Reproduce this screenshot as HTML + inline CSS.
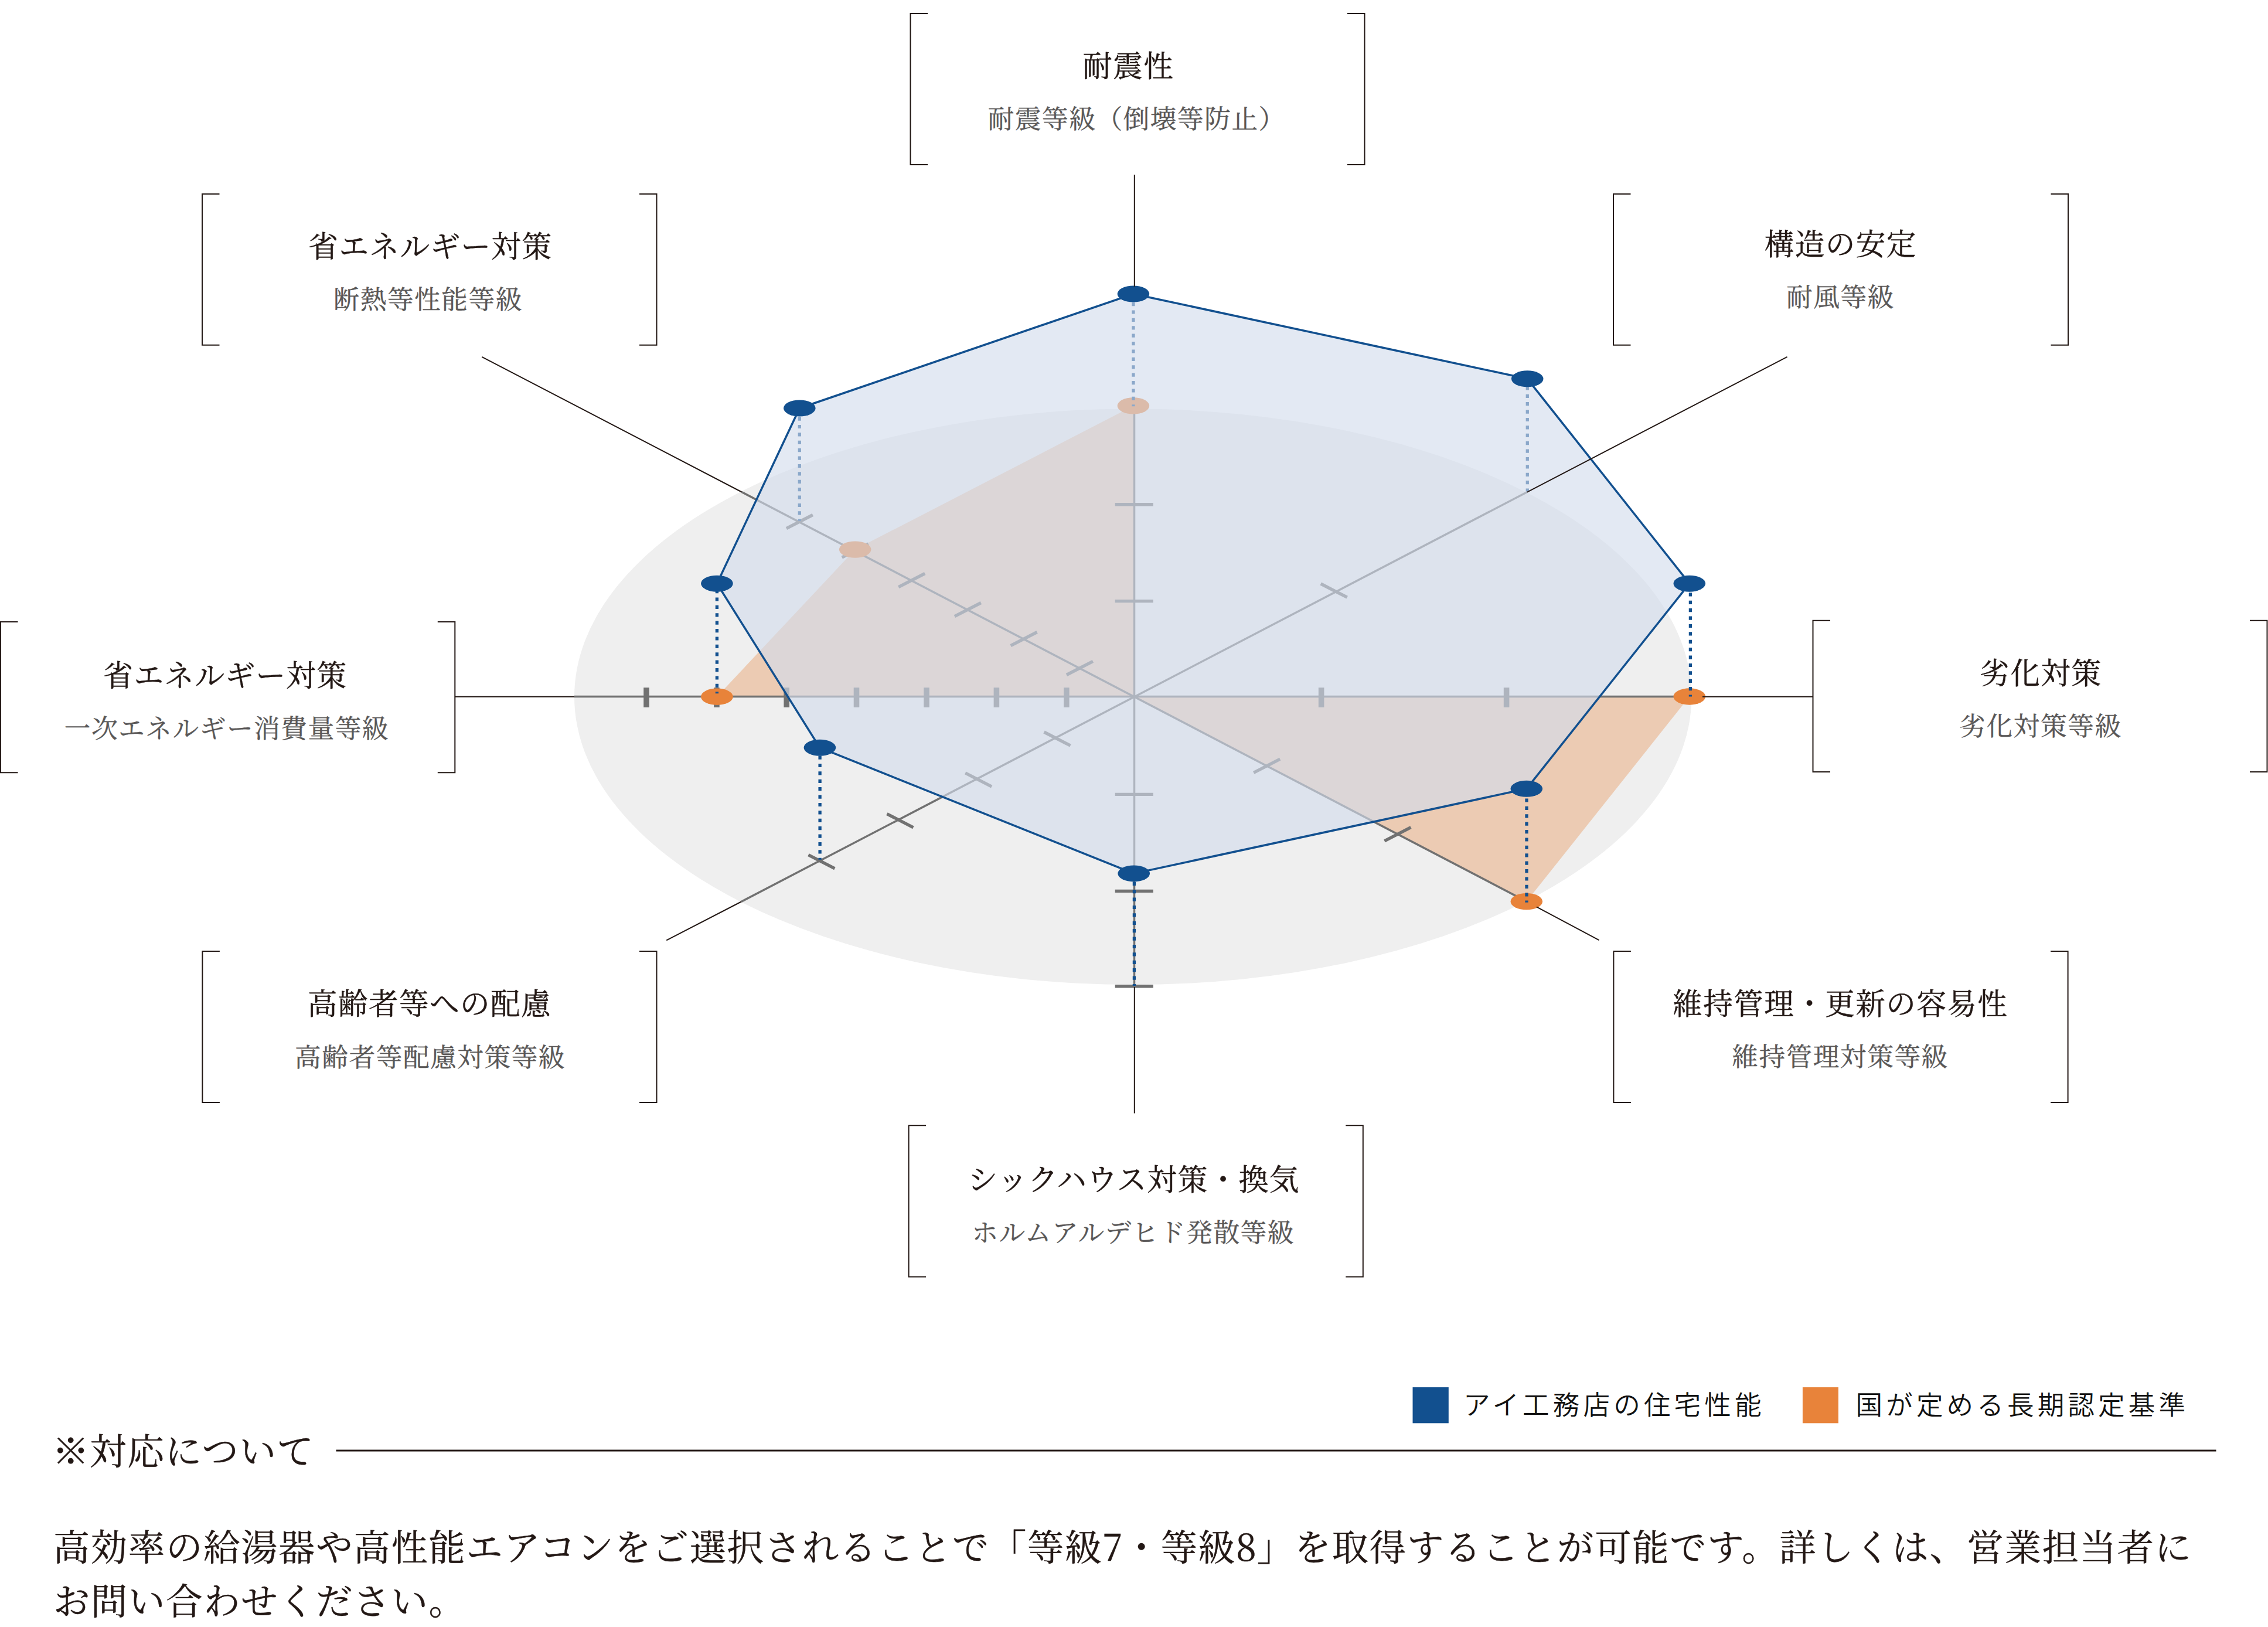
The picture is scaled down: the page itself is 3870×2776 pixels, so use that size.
<!DOCTYPE html>
<html lang="ja"><head><meta charset="utf-8"><title>住宅性能</title>
<style>html,body{margin:0;padding:0;background:#fff}body{width:3870px;height:2776px;overflow:hidden}svg{display:block}
.t{font-family:"Liberation Serif","Noto Serif CJK JP","Noto Serif CJK SC",serif;font-size:50.6px;letter-spacing:1.4px;fill:#231815;stroke:#231815;stroke-width:0.45px}
.s{font-family:"Liberation Serif","Noto Serif CJK JP","Noto Serif CJK SC",serif;font-size:44.8px;letter-spacing:1.4px;fill:#595757;stroke:#595757;stroke-width:0.35px}
.p{font-family:"Liberation Serif","Noto Serif CJK JP","Noto Serif CJK SC",serif;font-size:62.3px;letter-spacing:1.75px;fill:#231815;stroke:#231815;stroke-width:0.45px}
.d{font-family:"Noto Serif CJK JP","Noto Serif CJK SC","Liberation Serif",serif;font-size:63px;letter-spacing:0.8px}
.l{font-family:"Liberation Sans","Noto Sans CJK JP",sans-serif;font-size:45.6px;letter-spacing:6.1px;font-weight:350;fill:#111}
.br{fill:none;stroke:#231815;stroke-width:2}
.ld{fill:none;stroke:#231815;stroke-width:2}
.ax{fill:none;stroke:#717171;stroke-width:3.5}
.tk{fill:none;stroke:#717171;stroke-width:5.4}
.tkh{fill:none;stroke:#717171;stroke-width:9.6}
.dt{fill:none;stroke:#12508f;stroke-width:5.3;stroke-dasharray:6.2 7.2}
</style></head><body>
<svg width="3870" height="2776" viewBox="0 0 3870 2776">
<rect width="3870" height="2776" fill="#fff"/>
<ellipse cx="1933.2" cy="1188.8" rx="953.2" ry="491.3" fill="#efefef"/>
<polygon points="1933.9,692.4 1459.2,937.6 1223.4,1188.7 1935.0,1188.8 2604.8,1538.1 2882.8,1188.5 1935.0,1188.8" fill="#e8833a" fill-opacity="0.33"/>
<g class="ax">
<line x1="980" y1="1188.6" x2="2883" y2="1188.6"/>
<line x1="1935.5" y1="692.4" x2="1935.5" y2="1682.7"/>
<line x1="1265.6" y1="839.5" x2="2604.8" y2="1538.1"/>
<line x1="1264.8" y1="1538.5" x2="2605.4" y2="839.8"/>
</g>
<g class="tkh">
<line x1="1103.0" y1="1173.2" x2="1103.0" y2="1206.8"/>
<line x1="1222.9" y1="1173.2" x2="1222.9" y2="1206.8"/>
<line x1="1342.2" y1="1173.2" x2="1342.2" y2="1206.8"/>
<line x1="1461.5" y1="1173.2" x2="1461.5" y2="1206.8"/>
<line x1="1581.0" y1="1173.2" x2="1581.0" y2="1206.8"/>
<line x1="1700.4" y1="1173.2" x2="1700.4" y2="1206.8"/>
<line x1="1819.8" y1="1173.2" x2="1819.8" y2="1206.8"/>
<line x1="2254.6" y1="1173.2" x2="2254.6" y2="1206.8"/>
<line x1="2570.6" y1="1173.2" x2="2570.6" y2="1206.8"/>
</g>
<g class="tk">
<line x1="1902.7" y1="860.7" x2="1967.8" y2="860.7"/>
<line x1="1902.7" y1="1025.6" x2="1967.8" y2="1025.6"/>
<line x1="1902.7" y1="1355.4" x2="1967.8" y2="1355.4"/>
<line x1="1902.7" y1="1520.4" x2="1967.8" y2="1520.4"/>
<line x1="1902.7" y1="1682.7" x2="1967.8" y2="1682.7"/>
<line x1="1341.9" y1="901.7" x2="1386.9" y2="878.5"/>
<line x1="1436.7" y1="951.2" x2="1481.7" y2="928.0"/>
<line x1="1533.2" y1="1001.7" x2="1578.2" y2="978.5"/>
<line x1="1628.9" y1="1051.7" x2="1673.9" y2="1028.5"/>
<line x1="1724.6" y1="1101.7" x2="1769.6" y2="1078.5"/>
<line x1="1819.9" y1="1151.5" x2="1864.9" y2="1128.3"/>
<line x1="2139.2" y1="1318.4" x2="2184.2" y2="1295.2"/>
<line x1="2362.4" y1="1434.8" x2="2407.4" y2="1411.6"/>
<line x1="1379.4" y1="1458.6" x2="1424.4" y2="1481.8"/>
<line x1="1513.4" y1="1388.6" x2="1558.4" y2="1411.8"/>
<line x1="1647.2" y1="1318.9" x2="1692.2" y2="1342.1"/>
<line x1="1781.5" y1="1249.0" x2="1826.5" y2="1272.2"/>
<line x1="2253.7" y1="996.0" x2="2298.7" y2="1019.2"/>
</g>
<ellipse cx="1933.9" cy="692.4" rx="27.3" ry="14.2" fill="#e8833a"/>
<ellipse cx="1459.2" cy="937.6" rx="27.3" ry="14.2" fill="#e8833a"/>
<ellipse cx="1223.4" cy="1188.7" rx="27.3" ry="14.2" fill="#e8833a"/>
<ellipse cx="2604.8" cy="1538.1" rx="27.3" ry="14.2" fill="#e8833a"/>
<ellipse cx="2882.8" cy="1188.5" rx="27.3" ry="14.2" fill="#e8833a"/>
<g class="dt">
<line x1="1933.9" y1="501.5" x2="1933.9" y2="693.3" stroke-dashoffset="12.30"/>
<line x1="1364.3" y1="696.5" x2="1364.3" y2="888.8" stroke-dashoffset="11.80"/>
<line x1="2606.3" y1="646.4" x2="2606.3" y2="838.5" stroke-dashoffset="0.50"/>
<line x1="1223.4" y1="995.7" x2="1223.4" y2="1183.3" stroke-dashoffset="3.10"/>
<line x1="2884.4" y1="995.7" x2="2884.4" y2="1188.6" stroke-dashoffset="11.20"/>
<line x1="1399.1" y1="1275.7" x2="1399.1" y2="1466.8" stroke-dashoffset="13.00"/>
<line x1="2605.0" y1="1345.8" x2="2605.0" y2="1539.7" stroke-dashoffset="10.20"/>
<line x1="1935.4" y1="1490.4" x2="1935.4" y2="1682.0" stroke-dashoffset="12.50"/>
</g>
<polygon points="1933.9,501.5 2606.2,646.3 2882.8,995.7 2604.8,1345.8 1934.7,1490.4 1398.9,1275.7 1223.4,995.7 1364.3,696.5" fill="rgb(211,220,236)" fill-opacity="0.633"/>
<polygon points="1933.9,501.5 2606.2,646.3 2882.8,995.7 2604.8,1345.8 1934.7,1490.4 1398.9,1275.7 1223.4,995.7 1364.3,696.5" fill="none" stroke="#12508f" stroke-width="3.5" stroke-linejoin="round"/>
<ellipse cx="1933.9" cy="501.5" rx="27.3" ry="14" fill="#12508f"/>
<ellipse cx="2606.2" cy="646.3" rx="27.3" ry="14" fill="#12508f"/>
<ellipse cx="2882.8" cy="995.7" rx="27.3" ry="14" fill="#12508f"/>
<ellipse cx="2604.8" cy="1345.8" rx="27.3" ry="14" fill="#12508f"/>
<ellipse cx="1934.7" cy="1490.4" rx="27.3" ry="14" fill="#12508f"/>
<ellipse cx="1398.9" cy="1275.7" rx="27.3" ry="14" fill="#12508f"/>
<ellipse cx="1223.4" cy="995.7" rx="27.3" ry="14" fill="#12508f"/>
<ellipse cx="1364.3" cy="696.5" rx="27.3" ry="14" fill="#12508f"/>
<g class="ld">
<line x1="1935.8" y1="298" x2="1935.8" y2="489"/>
<line x1="822.2" y1="608.8" x2="1265.6" y2="839.5"/>
<line x1="3049.6" y1="608.8" x2="2605.4" y2="839.8"/>
<line x1="776.3" y1="1188.7" x2="980" y2="1188.7"/>
<line x1="2905" y1="1188.7" x2="3093.5" y2="1188.7"/>
<line x1="1264.8" y1="1538.5" x2="1137.2" y2="1604.3"/>
<line x1="2622" y1="1547.3" x2="2728.6" y2="1604.1"/>
<line x1="1935.8" y1="1684" x2="1935.8" y2="1899.5"/>
</g>
<path class="br" d="M1583.0 23.0H1553.5V281.0H1583.0"/>
<path class="br" d="M2299.0 23.0H2328.5V281.0H2299.0"/>
<text class="t" x="1925.2" y="131.0" text-anchor="middle">耐震性</text>
<text class="s" x="1939.7" y="219.0" text-anchor="middle">耐震等級（倒壊等防止）</text>
<path class="br" d="M374.5 331.0H345.0V588.7H374.5"/>
<path class="br" d="M1091.0 331.0H1120.5V588.7H1091.0"/>
<text class="t" x="734.6" y="439.0" text-anchor="middle">省エネルギー対策</text>
<text class="s" x="730.2" y="527.0" text-anchor="middle">断熱等性能等級</text>
<path class="br" d="M2782.5 331.0H2753.0V588.7H2782.5"/>
<path class="br" d="M3499.5 331.0H3529.0V588.7H3499.5"/>
<text class="t" x="3140.7" y="434.7" text-anchor="middle">構造の安定</text>
<text class="s" x="3140.4" y="522.7" text-anchor="middle">耐風等級</text>
<path class="br" d="M30.5 1061.0H1.0V1318.3H30.5"/>
<path class="br" d="M746.8 1061.0H776.3V1318.3H746.8"/>
<text class="t" x="384.4" y="1170.8" text-anchor="middle">省エネルギー対策</text>
<text class="s" x="386.9" y="1258.9" text-anchor="middle">一次エネルギー消費量等級</text>
<path class="br" d="M3123.0 1058.8H3093.5V1317.0H3123.0"/>
<path class="br" d="M3839.0 1058.8H3868.5V1317.0H3839.0"/>
<text class="t" x="3482.6" y="1166.8" text-anchor="middle">劣化対策</text>
<text class="s" x="3482.0" y="1254.8" text-anchor="middle">劣化対策等級</text>
<path class="br" d="M374.9 1623.0H345.4V1881.0H374.9"/>
<path class="br" d="M1091.0 1623.0H1120.5V1881.0H1091.0"/>
<text class="t" x="733.0" y="1731.0" text-anchor="middle">高齢者等への配慮</text>
<text class="s" x="734.1" y="1819.8" text-anchor="middle">高齢者等配慮対策等級</text>
<path class="br" d="M2782.9 1623.0H2753.4V1881.0H2782.9"/>
<path class="br" d="M3499.1 1623.0H3528.6V1881.0H3499.1"/>
<text class="t" x="3140.3" y="1731.0" text-anchor="middle">維持管理・更新の容易性</text>
<text class="s" x="3140.0" y="1819.0" text-anchor="middle">維持管理対策等級</text>
<path class="br" d="M1580.1 1920.2H1550.6V2178.5H1580.1"/>
<path class="br" d="M2296.3 1920.2H2325.8V2178.5H2296.3"/>
<text class="t" x="1934.6" y="2031.2" text-anchor="middle">シックハウス対策・換気</text>
<text class="s" x="1933.6" y="2119.2" text-anchor="middle">ホルムアルデヒド発散等級</text>
<rect x="2410.5" y="2367" width="61.3" height="61.3" fill="#12508f"/>
<text class="l" x="2497" y="2414">アイ工務店の住宅性能</text>
<rect x="3075.9" y="2367" width="61" height="61.3" fill="#e8833a"/>
<text class="l" x="3166.5" y="2414">国が定める長期認定基準</text>
<text class="p" x="89.5" y="2499">※対応について</text>
<line x1="573.5" y1="2475.1" x2="3781.5" y2="2475.1" stroke="#231815" stroke-width="3"/>
<text class="p" x="91" y="2662.5">高効率の給湯器や高性能エアコンをご選択されることで「等級<tspan class="d">7</tspan>・等級<tspan class="d">8</tspan>」を取得することが可能です。詳しくは、営業担当者に</text>
<text class="p" x="91" y="2754.5">お問い合わせください。</text>
</svg></body></html>
